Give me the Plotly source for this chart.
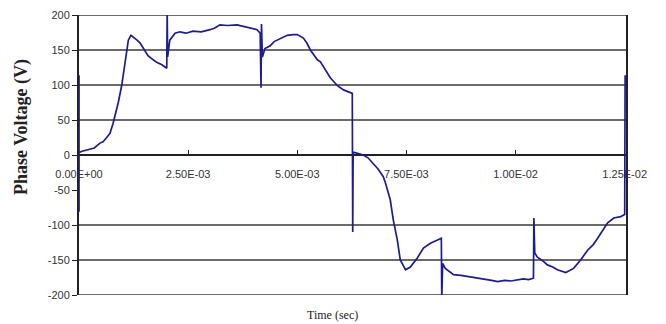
import plotly.graph_objects as go

# Time in milliseconds (converted to seconds below) and phase voltage in volts
time_ms = [0.0, 0.0, 0.0, 0.05, 0.18, 0.35, 0.48, 0.55, 0.62, 0.71, 0.78, 0.83, 0.90, 0.98, 1.06, 1.13,
           1.19, 1.26, 1.33, 1.40, 1.50, 1.58, 1.70, 1.79, 1.90, 1.99, 2.01, 2.02, 2.03, 2.08, 2.14, 2.20,
           2.31, 2.45, 2.61, 2.80, 3.00, 3.10, 3.23, 3.40, 3.62, 3.75, 3.85, 3.97, 4.08, 4.15, 4.17, 4.18,
           4.20, 4.26, 4.38, 4.47, 4.54, 4.65, 4.77, 4.90, 5.00, 5.14, 5.22, 5.30, 5.46, 5.53, 5.60, 5.76,
           5.85, 5.92, 6.06, 6.15, 6.26, 6.27, 6.28, 6.40, 6.51, 6.62, 6.74, 6.85, 6.97, 7.02, 7.13,
           7.20, 7.29, 7.36, 7.48, 7.59, 7.75, 7.89, 8.05, 8.21, 8.30, 8.31, 8.33, 8.39, 8.48, 8.58,
           8.75, 8.97, 9.10, 9.27, 9.45, 9.59, 9.75, 9.89, 10.05, 10.18, 10.30, 10.41, 10.42, 10.44,
           10.50, 10.62, 10.73, 10.85, 10.96, 11.15, 11.33, 11.49, 11.65, 11.78, 11.88, 12.00, 12.11,
           12.25, 12.41, 12.50, 12.51]
voltage = [114, -81, 3, 5, 7, 10, 17, 19, 24, 31, 45, 57, 75, 100, 136, 164,
           171, 168, 164, 160, 150, 142, 136, 132, 129, 124, 124, 205, 140, 164, 170, 174,
           176, 174, 177, 176, 179, 181, 186, 185, 186, 184, 183, 181, 179, 174, 96, 187,
           140, 152, 156, 162, 164, 168, 171, 172, 172, 167, 160, 150, 136, 133, 126, 110,
           104, 99, 93, 91, 88, -110, 4, 2, 0, -4, -12, -20, -31, -40, -64,
           -93, -121, -150, -164, -160, -147, -133, -126, -121, -119, -205, -155, -162, -166, -171,
           -172, -174, -175, -177, -179, -181, -179, -180, -178, -177, -178, -176, -90, -140,
           -146, -151, -157, -160, -164, -168, -162, -150, -136, -128, -119, -108, -97,
           -90, -88, -85, 114]

time_s = [t * 1e-3 for t in time_ms]

y_tick_vals = [200, 150, 100, 50, 0, -50, -100, -150, -200]
y_tick_text = ["200", "150", "100", "50", "0", "-50", "-100", "-150", "-200"]
grid_levels = [200, 150, 100, 50, -100, -150, -200]
x_tick_vals = [0, 2.5e-3, 5.0e-3, 7.5e-3, 1.0e-2, 1.25e-2]
x_tick_text = ["0.00E+00", "2.50E-03", "5.00E-03", "7.50E-03", "1.00E-02", "1.25E-02"]

fig = go.Figure()
fig.add_trace(go.Scatter(x=time_s, y=voltage, mode="lines",
                         line=dict(color="#1c1c94", width=1.7), showlegend=False,
                         hoverinfo="skip"))

for g in grid_levels:
    fig.add_shape(type="line", xref="paper", x0=0, x1=1, yref="y", y0=g, y1=g,
                  line=dict(color="#3a3a3a", width=1.6), layer="below")

# the page body adds an 8px offset, so the figure is sized to fit the window
fig.update_layout(
    width=658, height=316,
    margin=dict(l=71, r=40, t=7, b=29),
    paper_bgcolor="white", plot_bgcolor="white",
    xaxis=dict(range=[0, 0.01253], tickvals=x_tick_vals, ticktext=x_tick_text,
               showgrid=False, zeroline=False, showline=True, linecolor="#222",
               linewidth=1.5, anchor="free", position=0.5, ticks="inside",
               ticklen=4, tickcolor="#222", automargin=False, layer="below traces",
               ticklabelstandoff=9,
               tickfont=dict(family="Liberation Sans, Arial, sans-serif", size=11, color="#333")),
    yaxis=dict(range=[-200, 200], tickvals=y_tick_vals, ticktext=y_tick_text,
               showgrid=False, zeroline=False, showline=True, mirror=True,
               linecolor="#222", linewidth=2, ticks="outside", ticklen=5, tickcolor="#222",
               automargin=False, layer="below traces",
               tickfont=dict(family="Liberation Sans, Arial, sans-serif", size=11, color="#333")),
    annotations=[
        dict(text="<b>Phase Voltage (V)</b>", xref="paper", yref="paper", x=0, y=0.5,
             xanchor="center", yanchor="middle",
             xshift=-58, yshift=28, textangle=-90, showarrow=False,
             font=dict(family="Liberation Serif, Times New Roman, serif", size=18, color="#222")),
        dict(text="Time (sec)", xref="paper", yref="paper", x=0.5, y=0,
             xanchor="center", yanchor="middle",
             xshift=-20, yshift=-20, showarrow=False,
             font=dict(family="Liberation Serif, Times New Roman, serif", size=12, color="#222")),
    ],
)

fig.write_html("out.html")
